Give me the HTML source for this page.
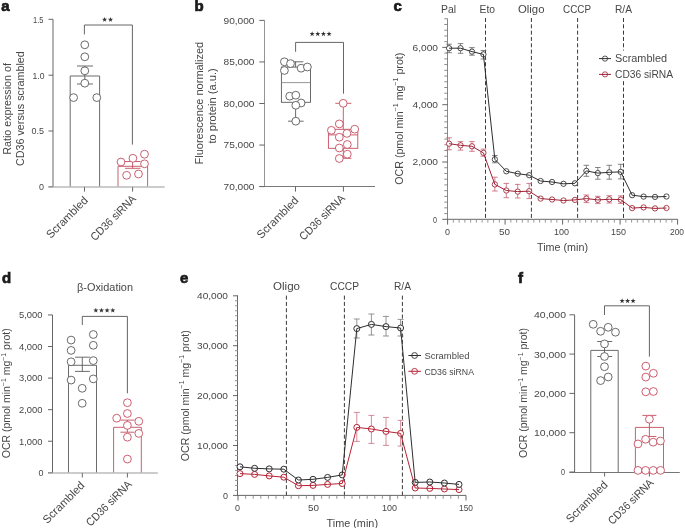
<!DOCTYPE html>
<html><head><meta charset="utf-8"><style>
html,body{margin:0;padding:0;background:#fff;overflow:hidden;}
svg{display:block;font-family:"Liberation Sans",sans-serif;will-change:transform;}
</style></head><body>
<svg width="685" height="528" viewBox="0 0 685 528">
<rect width="685" height="528" fill="#fff"/>
<text x="1.30" y="10.95" font-size="15" text-anchor="start" fill="#1a1a1a" font-weight="bold"   stroke="#1a1a1a" stroke-width="0.7">a</text>
<line x1="53.00" y1="19.30" x2="53.00" y2="186.80" stroke="#555555" stroke-width="0.9" />
<line x1="48.50" y1="19.30" x2="53.00" y2="19.30" stroke="#555555" stroke-width="0.9" />
<text x="33.00" y="22.60" font-size="9.4" text-anchor="start" fill="#474747" font-weight="normal" textLength="10.5" lengthAdjust="spacingAndGlyphs"  >1.5</text>
<line x1="48.50" y1="75.20" x2="53.00" y2="75.20" stroke="#555555" stroke-width="0.9" />
<text x="32.50" y="78.50" font-size="9.4" text-anchor="start" fill="#474747" font-weight="normal" textLength="12.0" lengthAdjust="spacingAndGlyphs"  >1.0</text>
<line x1="48.50" y1="131.00" x2="53.00" y2="131.00" stroke="#555555" stroke-width="0.9" />
<text x="31.50" y="134.30" font-size="9.4" text-anchor="start" fill="#474747" font-weight="normal" textLength="12.5" lengthAdjust="spacingAndGlyphs"  >0.5</text>
<line x1="48.50" y1="186.80" x2="53.00" y2="186.80" stroke="#555555" stroke-width="0.9" />
<text x="39.00" y="190.10" font-size="9.4" text-anchor="start" fill="#474747" font-weight="normal" textLength="5.0" lengthAdjust="spacingAndGlyphs"  >0</text>
<line x1="84.50" y1="186.80" x2="84.50" y2="191.60" stroke="#555555" stroke-width="0.9" />
<line x1="132.60" y1="186.80" x2="132.60" y2="191.60" stroke="#555555" stroke-width="0.9" />
<polyline points="70.20,186.50 70.20,76.00 99.60,76.00 99.60,186.50" fill="none" stroke="#5a5a5a" stroke-width="0.9" stroke-linejoin="round" />
<polyline points="118.00,186.50 118.00,166.30 147.60,166.30 147.60,186.50" fill="none" stroke="#c44e60" stroke-width="0.9" stroke-linejoin="round" />
<line x1="48.30" y1="187.00" x2="164.60" y2="187.00" stroke="#999" stroke-width="1.0" />
<line x1="84.80" y1="66.00" x2="84.80" y2="84.00" stroke="#5a5a5a" stroke-width="0.9" />
<line x1="77.00" y1="66.00" x2="93.00" y2="66.00" stroke="#5a5a5a" stroke-width="0.9" />
<line x1="77.00" y1="84.00" x2="93.00" y2="84.00" stroke="#5a5a5a" stroke-width="0.9" />
<line x1="132.60" y1="161.50" x2="132.60" y2="168.30" stroke="#c44e60" stroke-width="0.9" />
<line x1="125.00" y1="161.50" x2="140.40" y2="161.50" stroke="#c44e60" stroke-width="0.9" />
<line x1="125.00" y1="168.30" x2="140.40" y2="168.30" stroke="#c44e60" stroke-width="0.9" />
<circle cx="84.80" cy="44.80" r="3.9" fill="#fff" stroke="#5a5a5a" stroke-width="0.9"/>
<circle cx="84.80" cy="56.80" r="3.9" fill="#fff" stroke="#5a5a5a" stroke-width="0.9"/>
<circle cx="84.80" cy="70.80" r="3.9" fill="#fff" stroke="#5a5a5a" stroke-width="0.9"/>
<circle cx="84.80" cy="83.20" r="3.9" fill="#fff" stroke="#5a5a5a" stroke-width="0.9"/>
<circle cx="73.60" cy="97.60" r="3.9" fill="#fff" stroke="#5a5a5a" stroke-width="0.9"/>
<circle cx="96.80" cy="97.60" r="3.9" fill="#fff" stroke="#5a5a5a" stroke-width="0.9"/>
<circle cx="121.00" cy="162.00" r="3.9" fill="#fff" stroke="#c44e60" stroke-width="0.9"/>
<circle cx="132.90" cy="158.30" r="3.9" fill="#fff" stroke="#c44e60" stroke-width="0.9"/>
<circle cx="144.50" cy="154.20" r="3.9" fill="#fff" stroke="#c44e60" stroke-width="0.9"/>
<circle cx="144.50" cy="163.80" r="3.9" fill="#fff" stroke="#c44e60" stroke-width="0.9"/>
<circle cx="126.60" cy="175.30" r="3.9" fill="#fff" stroke="#c44e60" stroke-width="0.9"/>
<circle cx="138.50" cy="174.00" r="3.9" fill="#fff" stroke="#c44e60" stroke-width="0.9"/>
<polyline points="84.40,34.40 84.40,25.00 132.40,25.00 132.40,144.60" fill="none" stroke="#555555" stroke-width="0.9" stroke-linejoin="round" />
<polygon points="104.60,16.90 105.25,18.71 107.17,18.77 105.65,19.94 106.19,21.78 104.60,20.70 103.01,21.78 103.55,19.94 102.03,18.77 103.95,18.71" fill="#333"/>
<polygon points="110.50,16.90 111.15,18.71 113.07,18.77 111.55,19.94 112.09,21.78 110.50,20.70 108.91,21.78 109.45,19.94 107.93,18.77 109.85,18.71" fill="#333"/>
<text x="10.80" y="108.90" font-size="10.5" text-anchor="middle" fill="#474747" font-weight="normal" textLength="91.59999999999997" lengthAdjust="spacingAndGlyphs" transform="rotate(-90 10.80 108.90)" >Ratio expression of</text>
<text x="23.90" y="108.60" font-size="10.5" text-anchor="middle" fill="#474747" font-weight="normal" textLength="114.89999999999979" lengthAdjust="spacingAndGlyphs" transform="rotate(-90 23.90 108.60)" >CD36 versus scrambled</text>
<text x="88.70" y="201.00" font-size="11.3" text-anchor="end" fill="#474747" font-weight="normal" textLength="53.7" lengthAdjust="spacingAndGlyphs" transform="rotate(-45 88.70 201.00)" >Scrambled</text>
<text x="136.80" y="199.60" font-size="11.3" text-anchor="end" fill="#474747" font-weight="normal" textLength="59.1" lengthAdjust="spacingAndGlyphs" transform="rotate(-45 136.80 199.60)" >CD36 siRNA</text>
<text x="194.50" y="10.95" font-size="15" text-anchor="start" fill="#1a1a1a" font-weight="bold"   stroke="#1a1a1a" stroke-width="0.7">b</text>
<line x1="264.50" y1="20.40" x2="264.50" y2="186.60" stroke="#888" stroke-width="0.9" />
<line x1="259.30" y1="20.40" x2="264.60" y2="20.40" stroke="#555555" stroke-width="0.9" />
<text x="223.50" y="23.80" font-size="9.4" text-anchor="start" fill="#474747" font-weight="normal" textLength="31.0" lengthAdjust="spacingAndGlyphs"  >90,000</text>
<line x1="259.30" y1="61.95" x2="264.60" y2="61.95" stroke="#555555" stroke-width="0.9" />
<text x="223.50" y="65.35" font-size="9.4" text-anchor="start" fill="#474747" font-weight="normal" textLength="31.0" lengthAdjust="spacingAndGlyphs"  >85,000</text>
<line x1="259.30" y1="103.50" x2="264.60" y2="103.50" stroke="#555555" stroke-width="0.9" />
<text x="223.50" y="106.90" font-size="9.4" text-anchor="start" fill="#474747" font-weight="normal" textLength="31.0" lengthAdjust="spacingAndGlyphs"  >80,000</text>
<line x1="259.30" y1="145.05" x2="264.60" y2="145.05" stroke="#555555" stroke-width="0.9" />
<text x="223.50" y="148.45" font-size="9.4" text-anchor="start" fill="#474747" font-weight="normal" textLength="31.0" lengthAdjust="spacingAndGlyphs"  >75,000</text>
<line x1="259.30" y1="186.60" x2="264.60" y2="186.60" stroke="#555555" stroke-width="0.9" />
<text x="223.50" y="190.00" font-size="9.4" text-anchor="start" fill="#474747" font-weight="normal" textLength="31.0" lengthAdjust="spacingAndGlyphs"  >70,000</text>
<line x1="259.30" y1="186.50" x2="375.00" y2="186.50" stroke="#6a6a6a" stroke-width="0.9" />
<line x1="295.50" y1="186.60" x2="295.50" y2="191.60" stroke="#555555" stroke-width="0.9" />
<line x1="343.40" y1="186.60" x2="343.40" y2="191.60" stroke="#555555" stroke-width="0.9" />
<rect x="281.40" y="67.10" width="29.10" height="35.20" fill="none" stroke="#5a5a5a" stroke-width="0.9"/>
<line x1="281.40" y1="82.60" x2="310.50" y2="82.60" stroke="#8a8a8a" stroke-width="0.9" />
<line x1="295.60" y1="61.80" x2="295.60" y2="67.10" stroke="#5a5a5a" stroke-width="0.9" />
<line x1="288.00" y1="61.80" x2="303.30" y2="61.80" stroke="#5a5a5a" stroke-width="0.9" />
<line x1="295.60" y1="102.30" x2="295.60" y2="121.20" stroke="#5a5a5a" stroke-width="0.9" />
<line x1="288.00" y1="121.20" x2="303.60" y2="121.20" stroke="#5a5a5a" stroke-width="0.9" />
<circle cx="284.40" cy="61.80" r="3.9" fill="#fff" stroke="#5a5a5a" stroke-width="0.9"/>
<circle cx="290.50" cy="63.60" r="3.9" fill="#fff" stroke="#5a5a5a" stroke-width="0.9"/>
<circle cx="284.40" cy="70.50" r="3.9" fill="#fff" stroke="#5a5a5a" stroke-width="0.9"/>
<circle cx="301.10" cy="68.20" r="3.9" fill="#fff" stroke="#5a5a5a" stroke-width="0.9"/>
<circle cx="307.40" cy="67.00" r="3.9" fill="#fff" stroke="#5a5a5a" stroke-width="0.9"/>
<circle cx="289.70" cy="96.20" r="3.9" fill="#fff" stroke="#5a5a5a" stroke-width="0.9"/>
<circle cx="295.80" cy="95.20" r="3.9" fill="#fff" stroke="#5a5a5a" stroke-width="0.9"/>
<circle cx="301.10" cy="103.00" r="3.9" fill="#fff" stroke="#5a5a5a" stroke-width="0.9"/>
<circle cx="295.80" cy="105.30" r="3.9" fill="#fff" stroke="#5a5a5a" stroke-width="0.9"/>
<circle cx="295.80" cy="121.20" r="3.9" fill="#fff" stroke="#5a5a5a" stroke-width="0.9"/>
<rect x="328.40" y="129.30" width="29.40" height="19.00" fill="none" stroke="#c44e60" stroke-width="0.9"/>
<line x1="328.40" y1="134.90" x2="357.80" y2="134.90" stroke="#c44e60" stroke-width="0.9" />
<line x1="343.30" y1="103.30" x2="343.30" y2="129.30" stroke="#c44e60" stroke-width="0.9" />
<line x1="335.30" y1="103.30" x2="351.40" y2="103.30" stroke="#c44e60" stroke-width="0.9" />
<line x1="343.30" y1="148.30" x2="343.30" y2="158.30" stroke="#c44e60" stroke-width="0.9" />
<line x1="335.30" y1="158.30" x2="351.40" y2="158.30" stroke="#c44e60" stroke-width="0.9" />
<circle cx="343.20" cy="103.30" r="3.9" fill="#fff" stroke="#c44e60" stroke-width="0.9"/>
<circle cx="339.30" cy="123.90" r="3.9" fill="#fff" stroke="#c44e60" stroke-width="0.9"/>
<circle cx="331.40" cy="130.30" r="3.9" fill="#fff" stroke="#c44e60" stroke-width="0.9"/>
<circle cx="354.70" cy="129.20" r="3.9" fill="#fff" stroke="#c44e60" stroke-width="0.9"/>
<circle cx="346.90" cy="133.40" r="3.9" fill="#fff" stroke="#c44e60" stroke-width="0.9"/>
<circle cx="339.30" cy="137.20" r="3.9" fill="#fff" stroke="#c44e60" stroke-width="0.9"/>
<circle cx="347.30" cy="144.50" r="3.9" fill="#fff" stroke="#c44e60" stroke-width="0.9"/>
<circle cx="339.30" cy="148.00" r="3.9" fill="#fff" stroke="#c44e60" stroke-width="0.9"/>
<circle cx="347.30" cy="154.20" r="3.9" fill="#fff" stroke="#c44e60" stroke-width="0.9"/>
<circle cx="339.30" cy="158.50" r="3.9" fill="#fff" stroke="#c44e60" stroke-width="0.9"/>
<polyline points="295.60,51.80 295.60,42.40 343.50,42.40 343.50,93.70" fill="none" stroke="#555555" stroke-width="0.9" stroke-linejoin="round" />
<polygon points="312.12,31.30 312.77,33.11 314.69,33.17 313.17,34.34 313.71,36.18 312.12,35.10 310.54,36.18 311.08,34.34 309.56,33.17 311.48,33.11" fill="#333"/>
<polygon points="317.77,31.30 318.42,33.11 320.34,33.17 318.82,34.34 319.36,36.18 317.77,35.10 316.19,36.18 316.73,34.34 315.21,33.17 317.13,33.11" fill="#333"/>
<polygon points="323.43,31.30 324.07,33.11 325.99,33.17 324.47,34.34 325.01,36.18 323.43,35.10 321.84,36.18 322.38,34.34 320.86,33.17 322.78,33.11" fill="#333"/>
<polygon points="329.07,31.30 329.72,33.11 331.64,33.17 330.12,34.34 330.66,36.18 329.07,35.10 327.49,36.18 328.03,34.34 326.51,33.17 328.43,33.11" fill="#333"/>
<text x="203.30" y="103.10" font-size="10.5" text-anchor="middle" fill="#474747" font-weight="normal" textLength="122.60000000000021" lengthAdjust="spacingAndGlyphs" transform="rotate(-90 203.30 103.10)" >Fluorescence normalized</text>
<text x="215.90" y="105.95" font-size="10.5" text-anchor="middle" fill="#474747" font-weight="normal" textLength="75.29999999999993" lengthAdjust="spacingAndGlyphs" transform="rotate(-90 215.90 105.95)" >to protein (a.u.)</text>
<text x="299.30" y="201.20" font-size="11.3" text-anchor="end" fill="#474747" font-weight="normal" textLength="53.7" lengthAdjust="spacingAndGlyphs" transform="rotate(-45 299.30 201.20)" >Scrambled</text>
<text x="345.60" y="199.20" font-size="11.3" text-anchor="end" fill="#474747" font-weight="normal" textLength="59.1" lengthAdjust="spacingAndGlyphs" transform="rotate(-45 345.60 199.20)" >CD36 siRNA</text>
<text x="393.50" y="10.95" font-size="15" text-anchor="start" fill="#1a1a1a" font-weight="bold"   stroke="#1a1a1a" stroke-width="0.7">c</text>
<line x1="447.50" y1="18.75" x2="447.50" y2="219.30" stroke="#7a7a7a" stroke-width="0.9" />
<line x1="442.30" y1="219.30" x2="447.70" y2="219.30" stroke="#555555" stroke-width="0.9" />
<line x1="444.30" y1="213.57" x2="447.70" y2="213.57" stroke="#808080" stroke-width="0.9" />
<line x1="444.30" y1="207.84" x2="447.70" y2="207.84" stroke="#808080" stroke-width="0.9" />
<line x1="444.30" y1="202.11" x2="447.70" y2="202.11" stroke="#808080" stroke-width="0.9" />
<line x1="444.30" y1="196.38" x2="447.70" y2="196.38" stroke="#808080" stroke-width="0.9" />
<line x1="444.30" y1="190.65" x2="447.70" y2="190.65" stroke="#808080" stroke-width="0.9" />
<line x1="444.30" y1="184.92" x2="447.70" y2="184.92" stroke="#808080" stroke-width="0.9" />
<line x1="444.30" y1="179.19" x2="447.70" y2="179.19" stroke="#808080" stroke-width="0.9" />
<line x1="444.30" y1="173.46" x2="447.70" y2="173.46" stroke="#808080" stroke-width="0.9" />
<line x1="444.30" y1="167.73" x2="447.70" y2="167.73" stroke="#808080" stroke-width="0.9" />
<line x1="442.30" y1="162.00" x2="447.70" y2="162.00" stroke="#555555" stroke-width="0.9" />
<line x1="444.30" y1="156.27" x2="447.70" y2="156.27" stroke="#808080" stroke-width="0.9" />
<line x1="444.30" y1="150.54" x2="447.70" y2="150.54" stroke="#808080" stroke-width="0.9" />
<line x1="444.30" y1="144.81" x2="447.70" y2="144.81" stroke="#808080" stroke-width="0.9" />
<line x1="444.30" y1="139.08" x2="447.70" y2="139.08" stroke="#808080" stroke-width="0.9" />
<line x1="444.30" y1="133.35" x2="447.70" y2="133.35" stroke="#808080" stroke-width="0.9" />
<line x1="444.30" y1="127.62" x2="447.70" y2="127.62" stroke="#808080" stroke-width="0.9" />
<line x1="444.30" y1="121.89" x2="447.70" y2="121.89" stroke="#808080" stroke-width="0.9" />
<line x1="444.30" y1="116.16" x2="447.70" y2="116.16" stroke="#808080" stroke-width="0.9" />
<line x1="444.30" y1="110.43" x2="447.70" y2="110.43" stroke="#808080" stroke-width="0.9" />
<line x1="442.30" y1="104.70" x2="447.70" y2="104.70" stroke="#555555" stroke-width="0.9" />
<line x1="444.30" y1="98.97" x2="447.70" y2="98.97" stroke="#808080" stroke-width="0.9" />
<line x1="444.30" y1="93.24" x2="447.70" y2="93.24" stroke="#808080" stroke-width="0.9" />
<line x1="444.30" y1="87.51" x2="447.70" y2="87.51" stroke="#808080" stroke-width="0.9" />
<line x1="444.30" y1="81.78" x2="447.70" y2="81.78" stroke="#808080" stroke-width="0.9" />
<line x1="444.30" y1="76.05" x2="447.70" y2="76.05" stroke="#808080" stroke-width="0.9" />
<line x1="444.30" y1="70.32" x2="447.70" y2="70.32" stroke="#808080" stroke-width="0.9" />
<line x1="444.30" y1="64.59" x2="447.70" y2="64.59" stroke="#808080" stroke-width="0.9" />
<line x1="444.30" y1="58.86" x2="447.70" y2="58.86" stroke="#808080" stroke-width="0.9" />
<line x1="444.30" y1="53.13" x2="447.70" y2="53.13" stroke="#808080" stroke-width="0.9" />
<line x1="442.30" y1="47.40" x2="447.70" y2="47.40" stroke="#555555" stroke-width="0.9" />
<line x1="444.30" y1="41.67" x2="447.70" y2="41.67" stroke="#808080" stroke-width="0.9" />
<line x1="444.30" y1="35.94" x2="447.70" y2="35.94" stroke="#808080" stroke-width="0.9" />
<line x1="444.30" y1="30.21" x2="447.70" y2="30.21" stroke="#808080" stroke-width="0.9" />
<line x1="444.30" y1="24.48" x2="447.70" y2="24.48" stroke="#808080" stroke-width="0.9" />
<line x1="444.30" y1="18.75" x2="447.70" y2="18.75" stroke="#808080" stroke-width="0.9" />
<text x="433.00" y="222.70" font-size="9.4" text-anchor="start" fill="#474747" font-weight="normal" textLength="4.0" lengthAdjust="spacingAndGlyphs"  >0</text>
<text x="412.50" y="165.40" font-size="9.4" text-anchor="start" fill="#474747" font-weight="normal" textLength="25.5" lengthAdjust="spacingAndGlyphs"  >2,000</text>
<text x="412.50" y="108.10" font-size="9.4" text-anchor="start" fill="#474747" font-weight="normal" textLength="25.5" lengthAdjust="spacingAndGlyphs"  >4,000</text>
<text x="412.50" y="50.80" font-size="9.4" text-anchor="start" fill="#474747" font-weight="normal" textLength="25.5" lengthAdjust="spacingAndGlyphs"  >6,000</text>
<line x1="447.60" y1="219.30" x2="677.60" y2="219.30" stroke="#555555" stroke-width="0.9" />
<line x1="447.60" y1="219.30" x2="447.60" y2="224.60" stroke="#555555" stroke-width="0.9" />
<line x1="453.35" y1="219.30" x2="453.35" y2="222.60" stroke="#8a8a8a" stroke-width="0.9" />
<line x1="459.10" y1="219.30" x2="459.10" y2="222.60" stroke="#8a8a8a" stroke-width="0.9" />
<line x1="464.85" y1="219.30" x2="464.85" y2="222.60" stroke="#8a8a8a" stroke-width="0.9" />
<line x1="470.60" y1="219.30" x2="470.60" y2="222.60" stroke="#8a8a8a" stroke-width="0.9" />
<line x1="476.35" y1="219.30" x2="476.35" y2="222.60" stroke="#8a8a8a" stroke-width="0.9" />
<line x1="482.10" y1="219.30" x2="482.10" y2="222.60" stroke="#8a8a8a" stroke-width="0.9" />
<line x1="487.85" y1="219.30" x2="487.85" y2="222.60" stroke="#8a8a8a" stroke-width="0.9" />
<line x1="493.60" y1="219.30" x2="493.60" y2="222.60" stroke="#8a8a8a" stroke-width="0.9" />
<line x1="499.35" y1="219.30" x2="499.35" y2="222.60" stroke="#8a8a8a" stroke-width="0.9" />
<line x1="505.10" y1="219.30" x2="505.10" y2="224.60" stroke="#555555" stroke-width="0.9" />
<line x1="510.85" y1="219.30" x2="510.85" y2="222.60" stroke="#8a8a8a" stroke-width="0.9" />
<line x1="516.60" y1="219.30" x2="516.60" y2="222.60" stroke="#8a8a8a" stroke-width="0.9" />
<line x1="522.35" y1="219.30" x2="522.35" y2="222.60" stroke="#8a8a8a" stroke-width="0.9" />
<line x1="528.10" y1="219.30" x2="528.10" y2="222.60" stroke="#8a8a8a" stroke-width="0.9" />
<line x1="533.85" y1="219.30" x2="533.85" y2="222.60" stroke="#8a8a8a" stroke-width="0.9" />
<line x1="539.60" y1="219.30" x2="539.60" y2="222.60" stroke="#8a8a8a" stroke-width="0.9" />
<line x1="545.35" y1="219.30" x2="545.35" y2="222.60" stroke="#8a8a8a" stroke-width="0.9" />
<line x1="551.10" y1="219.30" x2="551.10" y2="222.60" stroke="#8a8a8a" stroke-width="0.9" />
<line x1="556.85" y1="219.30" x2="556.85" y2="222.60" stroke="#8a8a8a" stroke-width="0.9" />
<line x1="562.60" y1="219.30" x2="562.60" y2="224.60" stroke="#555555" stroke-width="0.9" />
<line x1="568.35" y1="219.30" x2="568.35" y2="222.60" stroke="#8a8a8a" stroke-width="0.9" />
<line x1="574.10" y1="219.30" x2="574.10" y2="222.60" stroke="#8a8a8a" stroke-width="0.9" />
<line x1="579.85" y1="219.30" x2="579.85" y2="222.60" stroke="#8a8a8a" stroke-width="0.9" />
<line x1="585.60" y1="219.30" x2="585.60" y2="222.60" stroke="#8a8a8a" stroke-width="0.9" />
<line x1="591.35" y1="219.30" x2="591.35" y2="222.60" stroke="#8a8a8a" stroke-width="0.9" />
<line x1="597.10" y1="219.30" x2="597.10" y2="222.60" stroke="#8a8a8a" stroke-width="0.9" />
<line x1="602.85" y1="219.30" x2="602.85" y2="222.60" stroke="#8a8a8a" stroke-width="0.9" />
<line x1="608.60" y1="219.30" x2="608.60" y2="222.60" stroke="#8a8a8a" stroke-width="0.9" />
<line x1="614.35" y1="219.30" x2="614.35" y2="222.60" stroke="#8a8a8a" stroke-width="0.9" />
<line x1="620.10" y1="219.30" x2="620.10" y2="224.60" stroke="#555555" stroke-width="0.9" />
<line x1="625.85" y1="219.30" x2="625.85" y2="222.60" stroke="#8a8a8a" stroke-width="0.9" />
<line x1="631.60" y1="219.30" x2="631.60" y2="222.60" stroke="#8a8a8a" stroke-width="0.9" />
<line x1="637.35" y1="219.30" x2="637.35" y2="222.60" stroke="#8a8a8a" stroke-width="0.9" />
<line x1="643.10" y1="219.30" x2="643.10" y2="222.60" stroke="#8a8a8a" stroke-width="0.9" />
<line x1="648.85" y1="219.30" x2="648.85" y2="222.60" stroke="#8a8a8a" stroke-width="0.9" />
<line x1="654.60" y1="219.30" x2="654.60" y2="222.60" stroke="#8a8a8a" stroke-width="0.9" />
<line x1="660.35" y1="219.30" x2="660.35" y2="222.60" stroke="#8a8a8a" stroke-width="0.9" />
<line x1="666.10" y1="219.30" x2="666.10" y2="222.60" stroke="#8a8a8a" stroke-width="0.9" />
<line x1="671.85" y1="219.30" x2="671.85" y2="222.60" stroke="#8a8a8a" stroke-width="0.9" />
<line x1="677.60" y1="219.30" x2="677.60" y2="224.60" stroke="#555555" stroke-width="0.9" />
<text x="445.00" y="235.30" font-size="9.4" text-anchor="start" fill="#474747" font-weight="normal" textLength="5.0" lengthAdjust="spacingAndGlyphs"  >0</text>
<text x="499.00" y="235.30" font-size="9.4" text-anchor="start" fill="#474747" font-weight="normal" textLength="11.0" lengthAdjust="spacingAndGlyphs"  >50</text>
<text x="554.00" y="235.30" font-size="9.4" text-anchor="start" fill="#474747" font-weight="normal" textLength="15.0" lengthAdjust="spacingAndGlyphs"  >100</text>
<text x="611.00" y="235.30" font-size="9.4" text-anchor="start" fill="#474747" font-weight="normal" textLength="15.0" lengthAdjust="spacingAndGlyphs"  >150</text>
<text x="670.00" y="235.30" font-size="9.4" text-anchor="start" fill="#474747" font-weight="normal" textLength="14.0" lengthAdjust="spacingAndGlyphs"  >200</text>
<text x="537.00" y="251.20" font-size="10.2" text-anchor="start" fill="#474747" font-weight="normal" textLength="51.0" lengthAdjust="spacingAndGlyphs"  >Time (min)</text>
<line x1="485.50" y1="18.00" x2="485.50" y2="219.30" stroke="#3a3a3a" stroke-width="1.0" stroke-dasharray="4.0 2.32"/>
<line x1="531.40" y1="18.00" x2="531.40" y2="219.30" stroke="#3a3a3a" stroke-width="1.0" stroke-dasharray="4.0 2.32"/>
<line x1="577.60" y1="18.00" x2="577.60" y2="219.30" stroke="#3a3a3a" stroke-width="1.0" stroke-dasharray="4.0 2.32"/>
<line x1="623.50" y1="18.00" x2="623.50" y2="219.30" stroke="#3a3a3a" stroke-width="1.0" stroke-dasharray="4.0 2.32"/>
<text x="441.00" y="12.70" font-size="10.2" text-anchor="start" fill="#474747" font-weight="normal" textLength="15.0" lengthAdjust="spacingAndGlyphs"  >Pal</text>
<text x="479.50" y="12.70" font-size="10.2" text-anchor="start" fill="#474747" font-weight="normal" textLength="15.5" lengthAdjust="spacingAndGlyphs"  >Eto</text>
<text x="518.00" y="12.70" font-size="10.2" text-anchor="start" fill="#474747" font-weight="normal" textLength="26.5" lengthAdjust="spacingAndGlyphs"  >Oligo</text>
<text x="563.00" y="12.70" font-size="10.2" text-anchor="start" fill="#474747" font-weight="normal" textLength="28.0" lengthAdjust="spacingAndGlyphs"  >CCCP</text>
<text x="615.00" y="12.70" font-size="10.2" text-anchor="start" fill="#474747" font-weight="normal" textLength="17.0" lengthAdjust="spacingAndGlyphs"  >R/A</text>
<line x1="449.10" y1="44.20" x2="449.10" y2="52.70" stroke="#666" stroke-width="0.8" />
<line x1="446.30" y1="44.20" x2="451.90" y2="44.20" stroke="#666" stroke-width="0.8" />
<line x1="446.30" y1="52.70" x2="451.90" y2="52.70" stroke="#666" stroke-width="0.8" />
<line x1="460.54" y1="43.60" x2="460.54" y2="53.30" stroke="#666" stroke-width="0.8" />
<line x1="457.74" y1="43.60" x2="463.34" y2="43.60" stroke="#666" stroke-width="0.8" />
<line x1="457.74" y1="53.30" x2="463.34" y2="53.30" stroke="#666" stroke-width="0.8" />
<line x1="471.98" y1="47.60" x2="471.98" y2="55.20" stroke="#666" stroke-width="0.8" />
<line x1="469.18" y1="47.60" x2="474.78" y2="47.60" stroke="#666" stroke-width="0.8" />
<line x1="469.18" y1="55.20" x2="474.78" y2="55.20" stroke="#666" stroke-width="0.8" />
<line x1="483.42" y1="50.50" x2="483.42" y2="59.00" stroke="#666" stroke-width="0.8" />
<line x1="480.62" y1="50.50" x2="486.22" y2="50.50" stroke="#666" stroke-width="0.8" />
<line x1="480.62" y1="59.00" x2="486.22" y2="59.00" stroke="#666" stroke-width="0.8" />
<line x1="494.86" y1="155.50" x2="494.86" y2="162.80" stroke="#666" stroke-width="0.8" />
<line x1="492.06" y1="155.50" x2="497.66" y2="155.50" stroke="#666" stroke-width="0.8" />
<line x1="492.06" y1="162.80" x2="497.66" y2="162.80" stroke="#666" stroke-width="0.8" />
<line x1="586.38" y1="165.30" x2="586.38" y2="176.30" stroke="#666" stroke-width="0.8" />
<line x1="583.58" y1="165.30" x2="589.18" y2="165.30" stroke="#666" stroke-width="0.8" />
<line x1="583.58" y1="176.30" x2="589.18" y2="176.30" stroke="#666" stroke-width="0.8" />
<line x1="597.82" y1="167.50" x2="597.82" y2="179.20" stroke="#666" stroke-width="0.8" />
<line x1="595.02" y1="167.50" x2="600.62" y2="167.50" stroke="#666" stroke-width="0.8" />
<line x1="595.02" y1="179.20" x2="600.62" y2="179.20" stroke="#666" stroke-width="0.8" />
<line x1="609.26" y1="165.30" x2="609.26" y2="179.20" stroke="#666" stroke-width="0.8" />
<line x1="606.46" y1="165.30" x2="612.06" y2="165.30" stroke="#666" stroke-width="0.8" />
<line x1="606.46" y1="179.20" x2="612.06" y2="179.20" stroke="#666" stroke-width="0.8" />
<line x1="620.70" y1="164.30" x2="620.70" y2="178.90" stroke="#666" stroke-width="0.8" />
<line x1="617.90" y1="164.30" x2="623.50" y2="164.30" stroke="#666" stroke-width="0.8" />
<line x1="617.90" y1="178.90" x2="623.50" y2="178.90" stroke="#666" stroke-width="0.8" />
<line x1="449.10" y1="137.80" x2="449.10" y2="149.80" stroke="#c46070" stroke-width="0.8" />
<line x1="446.30" y1="137.80" x2="451.90" y2="137.80" stroke="#c46070" stroke-width="0.8" />
<line x1="446.30" y1="149.80" x2="451.90" y2="149.80" stroke="#c46070" stroke-width="0.8" />
<line x1="460.54" y1="141.60" x2="460.54" y2="150.10" stroke="#c46070" stroke-width="0.8" />
<line x1="457.74" y1="141.60" x2="463.34" y2="141.60" stroke="#c46070" stroke-width="0.8" />
<line x1="457.74" y1="150.10" x2="463.34" y2="150.10" stroke="#c46070" stroke-width="0.8" />
<line x1="471.98" y1="141.60" x2="471.98" y2="151.30" stroke="#c46070" stroke-width="0.8" />
<line x1="469.18" y1="141.60" x2="474.78" y2="141.60" stroke="#c46070" stroke-width="0.8" />
<line x1="469.18" y1="151.30" x2="474.78" y2="151.30" stroke="#c46070" stroke-width="0.8" />
<line x1="483.42" y1="149.10" x2="483.42" y2="156.20" stroke="#c46070" stroke-width="0.8" />
<line x1="480.62" y1="149.10" x2="486.22" y2="149.10" stroke="#c46070" stroke-width="0.8" />
<line x1="480.62" y1="156.20" x2="486.22" y2="156.20" stroke="#c46070" stroke-width="0.8" />
<line x1="494.86" y1="177.20" x2="494.86" y2="191.00" stroke="#c46070" stroke-width="0.8" />
<line x1="492.06" y1="177.20" x2="497.66" y2="177.20" stroke="#c46070" stroke-width="0.8" />
<line x1="492.06" y1="191.00" x2="497.66" y2="191.00" stroke="#c46070" stroke-width="0.8" />
<line x1="506.30" y1="183.40" x2="506.30" y2="197.70" stroke="#c46070" stroke-width="0.8" />
<line x1="503.50" y1="183.40" x2="509.10" y2="183.40" stroke="#c46070" stroke-width="0.8" />
<line x1="503.50" y1="197.70" x2="509.10" y2="197.70" stroke="#c46070" stroke-width="0.8" />
<line x1="517.74" y1="184.40" x2="517.74" y2="198.00" stroke="#c46070" stroke-width="0.8" />
<line x1="514.94" y1="184.40" x2="520.54" y2="184.40" stroke="#c46070" stroke-width="0.8" />
<line x1="514.94" y1="198.00" x2="520.54" y2="198.00" stroke="#c46070" stroke-width="0.8" />
<line x1="529.18" y1="183.40" x2="529.18" y2="198.60" stroke="#c46070" stroke-width="0.8" />
<line x1="526.38" y1="183.40" x2="531.98" y2="183.40" stroke="#c46070" stroke-width="0.8" />
<line x1="526.38" y1="198.60" x2="531.98" y2="198.60" stroke="#c46070" stroke-width="0.8" />
<line x1="586.38" y1="195.00" x2="586.38" y2="202.60" stroke="#c46070" stroke-width="0.8" />
<line x1="583.58" y1="195.00" x2="589.18" y2="195.00" stroke="#c46070" stroke-width="0.8" />
<line x1="583.58" y1="202.60" x2="589.18" y2="202.60" stroke="#c46070" stroke-width="0.8" />
<line x1="597.82" y1="196.30" x2="597.82" y2="203.60" stroke="#c46070" stroke-width="0.8" />
<line x1="595.02" y1="196.30" x2="600.62" y2="196.30" stroke="#c46070" stroke-width="0.8" />
<line x1="595.02" y1="203.60" x2="600.62" y2="203.60" stroke="#c46070" stroke-width="0.8" />
<line x1="609.26" y1="195.70" x2="609.26" y2="203.00" stroke="#c46070" stroke-width="0.8" />
<line x1="606.46" y1="195.70" x2="612.06" y2="195.70" stroke="#c46070" stroke-width="0.8" />
<line x1="606.46" y1="203.00" x2="612.06" y2="203.00" stroke="#c46070" stroke-width="0.8" />
<line x1="620.70" y1="195.90" x2="620.70" y2="203.40" stroke="#c46070" stroke-width="0.8" />
<line x1="617.90" y1="195.90" x2="623.50" y2="195.90" stroke="#c46070" stroke-width="0.8" />
<line x1="617.90" y1="203.40" x2="623.50" y2="203.40" stroke="#c46070" stroke-width="0.8" />
<circle cx="449.10" cy="143.70" r="2.65" fill="#fff" stroke="#9e2235" stroke-width="0.85"/>
<circle cx="460.54" cy="145.30" r="2.65" fill="#fff" stroke="#9e2235" stroke-width="0.85"/>
<circle cx="471.98" cy="146.30" r="2.65" fill="#fff" stroke="#9e2235" stroke-width="0.85"/>
<circle cx="483.42" cy="152.90" r="2.65" fill="#fff" stroke="#9e2235" stroke-width="0.85"/>
<circle cx="494.86" cy="184.40" r="2.65" fill="#fff" stroke="#9e2235" stroke-width="0.85"/>
<circle cx="506.30" cy="190.50" r="2.65" fill="#fff" stroke="#9e2235" stroke-width="0.85"/>
<circle cx="517.74" cy="191.60" r="2.65" fill="#fff" stroke="#9e2235" stroke-width="0.85"/>
<circle cx="529.18" cy="191.20" r="2.65" fill="#fff" stroke="#9e2235" stroke-width="0.85"/>
<circle cx="540.62" cy="198.60" r="2.65" fill="#fff" stroke="#9e2235" stroke-width="0.85"/>
<circle cx="552.06" cy="199.50" r="2.65" fill="#fff" stroke="#9e2235" stroke-width="0.85"/>
<circle cx="563.50" cy="200.50" r="2.65" fill="#fff" stroke="#9e2235" stroke-width="0.85"/>
<circle cx="574.94" cy="199.90" r="2.65" fill="#fff" stroke="#9e2235" stroke-width="0.85"/>
<circle cx="586.38" cy="198.60" r="2.65" fill="#fff" stroke="#9e2235" stroke-width="0.85"/>
<circle cx="597.82" cy="199.90" r="2.65" fill="#fff" stroke="#9e2235" stroke-width="0.85"/>
<circle cx="609.26" cy="199.30" r="2.65" fill="#fff" stroke="#9e2235" stroke-width="0.85"/>
<circle cx="620.70" cy="199.60" r="2.65" fill="#fff" stroke="#9e2235" stroke-width="0.85"/>
<circle cx="632.14" cy="208.10" r="2.65" fill="#fff" stroke="#9e2235" stroke-width="0.85"/>
<circle cx="643.58" cy="207.40" r="2.65" fill="#fff" stroke="#9e2235" stroke-width="0.85"/>
<circle cx="655.02" cy="208.40" r="2.65" fill="#fff" stroke="#9e2235" stroke-width="0.85"/>
<circle cx="666.46" cy="208.00" r="2.65" fill="#fff" stroke="#9e2235" stroke-width="0.85"/>
<circle cx="449.10" cy="48.20" r="2.65" fill="#fff" stroke="#2e2e2e" stroke-width="0.85"/>
<circle cx="460.54" cy="48.20" r="2.65" fill="#fff" stroke="#2e2e2e" stroke-width="0.85"/>
<circle cx="471.98" cy="51.60" r="2.65" fill="#fff" stroke="#2e2e2e" stroke-width="0.85"/>
<circle cx="483.42" cy="54.40" r="2.65" fill="#fff" stroke="#2e2e2e" stroke-width="0.85"/>
<circle cx="494.86" cy="159.30" r="2.65" fill="#fff" stroke="#2e2e2e" stroke-width="0.85"/>
<circle cx="506.30" cy="171.30" r="2.65" fill="#fff" stroke="#2e2e2e" stroke-width="0.85"/>
<circle cx="517.74" cy="173.70" r="2.65" fill="#fff" stroke="#2e2e2e" stroke-width="0.85"/>
<circle cx="529.18" cy="175.20" r="2.65" fill="#fff" stroke="#2e2e2e" stroke-width="0.85"/>
<circle cx="540.62" cy="181.00" r="2.65" fill="#fff" stroke="#2e2e2e" stroke-width="0.85"/>
<circle cx="552.06" cy="182.00" r="2.65" fill="#fff" stroke="#2e2e2e" stroke-width="0.85"/>
<circle cx="563.50" cy="183.80" r="2.65" fill="#fff" stroke="#2e2e2e" stroke-width="0.85"/>
<circle cx="574.94" cy="183.30" r="2.65" fill="#fff" stroke="#2e2e2e" stroke-width="0.85"/>
<circle cx="586.38" cy="170.90" r="2.65" fill="#fff" stroke="#2e2e2e" stroke-width="0.85"/>
<circle cx="597.82" cy="173.10" r="2.65" fill="#fff" stroke="#2e2e2e" stroke-width="0.85"/>
<circle cx="609.26" cy="172.30" r="2.65" fill="#fff" stroke="#2e2e2e" stroke-width="0.85"/>
<circle cx="620.70" cy="171.90" r="2.65" fill="#fff" stroke="#2e2e2e" stroke-width="0.85"/>
<circle cx="632.14" cy="195.20" r="2.65" fill="#fff" stroke="#2e2e2e" stroke-width="0.85"/>
<circle cx="643.58" cy="196.60" r="2.65" fill="#fff" stroke="#2e2e2e" stroke-width="0.85"/>
<circle cx="655.02" cy="196.90" r="2.65" fill="#fff" stroke="#2e2e2e" stroke-width="0.85"/>
<circle cx="666.46" cy="196.50" r="2.65" fill="#fff" stroke="#2e2e2e" stroke-width="0.85"/>
<polyline points="449.10,143.70 460.54,145.30 471.98,146.30 483.42,152.90 494.86,184.40 506.30,190.50 517.74,191.60 529.18,191.20 540.62,198.60 552.06,199.50 563.50,200.50 574.94,199.90 586.38,198.60 597.82,199.90 609.26,199.30 620.70,199.60 632.14,208.10 643.58,207.40 655.02,208.40 666.46,208.00" fill="none" stroke="#9e2235" stroke-width="1.0" stroke-linejoin="round" />
<polyline points="449.10,48.20 460.54,48.20 471.98,51.60 483.42,54.40 494.86,159.30 506.30,171.30 517.74,173.70 529.18,175.20 540.62,181.00 552.06,182.00 563.50,183.80 574.94,183.30 586.38,170.90 597.82,173.10 609.26,172.30 620.70,171.90 632.14,195.20 643.58,196.60 655.02,196.90 666.46,196.50" fill="none" stroke="#2e2e2e" stroke-width="1.0" stroke-linejoin="round" />
<rect x="596" y="50.5" width="80" height="30.5" fill="#fff"/>
<line x1="599.00" y1="58.60" x2="611.00" y2="58.60" stroke="#2e2e2e" stroke-width="1.0" />
<circle cx="605.00" cy="58.60" r="2.6" fill="none" stroke="#2e2e2e" stroke-width="0.8"/>
<line x1="599.00" y1="74.40" x2="611.00" y2="74.40" stroke="#9e2235" stroke-width="1.0" />
<circle cx="605.00" cy="74.40" r="2.6" fill="none" stroke="#9e2235" stroke-width="0.8"/>
<text x="615.00" y="62.00" font-size="10.0" text-anchor="start" fill="#474747" font-weight="normal" textLength="52.0" lengthAdjust="spacingAndGlyphs"  >Scrambled</text>
<text x="615.00" y="78.00" font-size="10.0" text-anchor="start" fill="#474747" font-weight="normal" textLength="58.0" lengthAdjust="spacingAndGlyphs"  >CD36 siRNA</text>
<text x="402.60" y="118.70" font-size="10.3" text-anchor="middle" fill="#474747" font-weight="normal" textLength="132.09999999999985" lengthAdjust="spacingAndGlyphs" transform="rotate(-90 402.60 118.70)" >OCR (pmol min<tspan font-size="6.8" dy="-4.2">&#8722;1</tspan><tspan dy="4.2"> mg</tspan><tspan font-size="6.8" dy="-4.2">&#8722;1</tspan><tspan dy="4.2"> prot)</tspan></text>
<text x="2.00" y="282.70" font-size="15" text-anchor="start" fill="#1a1a1a" font-weight="bold"   stroke="#1a1a1a" stroke-width="0.7">d</text>
<text x="77.00" y="291.20" font-size="10.5" text-anchor="start" fill="#474747" font-weight="normal" textLength="56.0" lengthAdjust="spacingAndGlyphs"  >&#946;-Oxidation</text>
<line x1="52.50" y1="314.95" x2="52.50" y2="472.80" stroke="#555555" stroke-width="0.9" />
<line x1="48.00" y1="472.80" x2="52.50" y2="472.80" stroke="#555555" stroke-width="0.9" />
<text x="38.50" y="476.20" font-size="9.4" text-anchor="start" fill="#474747" font-weight="normal" textLength="5.0" lengthAdjust="spacingAndGlyphs"  >0</text>
<line x1="48.00" y1="441.23" x2="52.50" y2="441.23" stroke="#555555" stroke-width="0.9" />
<text x="19.00" y="444.63" font-size="9.4" text-anchor="start" fill="#474747" font-weight="normal" textLength="23.5" lengthAdjust="spacingAndGlyphs"  >1,000</text>
<line x1="48.00" y1="409.66" x2="52.50" y2="409.66" stroke="#555555" stroke-width="0.9" />
<text x="19.00" y="413.06" font-size="9.4" text-anchor="start" fill="#474747" font-weight="normal" textLength="23.5" lengthAdjust="spacingAndGlyphs"  >2,000</text>
<line x1="48.00" y1="378.09" x2="52.50" y2="378.09" stroke="#555555" stroke-width="0.9" />
<text x="19.00" y="381.49" font-size="9.4" text-anchor="start" fill="#474747" font-weight="normal" textLength="23.5" lengthAdjust="spacingAndGlyphs"  >3,000</text>
<line x1="48.00" y1="346.52" x2="52.50" y2="346.52" stroke="#555555" stroke-width="0.9" />
<text x="19.00" y="349.92" font-size="9.4" text-anchor="start" fill="#474747" font-weight="normal" textLength="23.5" lengthAdjust="spacingAndGlyphs"  >4,000</text>
<line x1="48.00" y1="314.95" x2="52.50" y2="314.95" stroke="#555555" stroke-width="0.9" />
<text x="19.00" y="318.35" font-size="9.4" text-anchor="start" fill="#474747" font-weight="normal" textLength="23.5" lengthAdjust="spacingAndGlyphs"  >5,000</text>
<line x1="82.30" y1="472.80" x2="82.30" y2="477.50" stroke="#555555" stroke-width="0.9" />
<line x1="127.40" y1="472.80" x2="127.40" y2="477.50" stroke="#555555" stroke-width="0.9" />
<polyline points="68.50,472.50 68.50,365.30 96.50,365.30 96.50,472.50" fill="none" stroke="#5a5a5a" stroke-width="0.9" stroke-linejoin="round" />
<polyline points="113.60,472.50 113.60,427.30 141.30,427.30 141.30,472.50" fill="none" stroke="#c44e60" stroke-width="0.9" stroke-linejoin="round" />
<line x1="48.00" y1="473.00" x2="157.80" y2="473.00" stroke="#999" stroke-width="1.0" />
<line x1="82.30" y1="357.20" x2="82.30" y2="371.40" stroke="#5a5a5a" stroke-width="0.9" />
<line x1="75.00" y1="357.20" x2="89.80" y2="357.20" stroke="#5a5a5a" stroke-width="0.9" />
<line x1="75.00" y1="371.40" x2="89.80" y2="371.40" stroke="#5a5a5a" stroke-width="0.9" />
<line x1="127.40" y1="420.10" x2="127.40" y2="432.20" stroke="#c44e60" stroke-width="0.9" />
<line x1="120.40" y1="420.10" x2="134.50" y2="420.10" stroke="#c44e60" stroke-width="0.9" />
<line x1="120.40" y1="432.20" x2="134.50" y2="432.20" stroke="#c44e60" stroke-width="0.9" />
<circle cx="71.10" cy="340.10" r="3.9" fill="#fff" stroke="#5a5a5a" stroke-width="0.9"/>
<circle cx="71.10" cy="350.40" r="3.9" fill="#fff" stroke="#5a5a5a" stroke-width="0.9"/>
<circle cx="71.10" cy="361.80" r="3.9" fill="#fff" stroke="#5a5a5a" stroke-width="0.9"/>
<circle cx="93.30" cy="334.50" r="3.9" fill="#fff" stroke="#5a5a5a" stroke-width="0.9"/>
<circle cx="93.30" cy="345.30" r="3.9" fill="#fff" stroke="#5a5a5a" stroke-width="0.9"/>
<circle cx="93.30" cy="360.60" r="3.9" fill="#fff" stroke="#5a5a5a" stroke-width="0.9"/>
<circle cx="71.10" cy="380.10" r="3.9" fill="#fff" stroke="#5a5a5a" stroke-width="0.9"/>
<circle cx="93.30" cy="378.90" r="3.9" fill="#fff" stroke="#5a5a5a" stroke-width="0.9"/>
<circle cx="82.20" cy="388.30" r="3.9" fill="#fff" stroke="#5a5a5a" stroke-width="0.9"/>
<circle cx="82.20" cy="403.30" r="3.9" fill="#fff" stroke="#5a5a5a" stroke-width="0.9"/>
<circle cx="127.40" cy="402.70" r="3.9" fill="#fff" stroke="#c44e60" stroke-width="0.9"/>
<circle cx="127.40" cy="413.50" r="3.9" fill="#fff" stroke="#c44e60" stroke-width="0.9"/>
<circle cx="116.70" cy="418.20" r="3.9" fill="#fff" stroke="#c44e60" stroke-width="0.9"/>
<circle cx="138.80" cy="421.30" r="3.9" fill="#fff" stroke="#c44e60" stroke-width="0.9"/>
<circle cx="127.40" cy="425.40" r="3.9" fill="#fff" stroke="#c44e60" stroke-width="0.9"/>
<circle cx="138.80" cy="433.40" r="3.9" fill="#fff" stroke="#c44e60" stroke-width="0.9"/>
<circle cx="127.40" cy="437.20" r="3.9" fill="#fff" stroke="#c44e60" stroke-width="0.9"/>
<circle cx="127.40" cy="459.10" r="3.9" fill="#fff" stroke="#c44e60" stroke-width="0.9"/>
<polyline points="82.30,325.00 82.30,316.40 127.40,316.40 127.40,393.30" fill="none" stroke="#555555" stroke-width="0.9" stroke-linejoin="round" />
<polygon points="95.82,307.70 96.47,309.51 98.39,309.57 96.87,310.74 97.41,312.58 95.82,311.50 94.24,312.58 94.78,310.74 93.26,309.57 95.18,309.51" fill="#333"/>
<polygon points="101.47,307.70 102.12,309.51 104.04,309.57 102.52,310.74 103.06,312.58 101.47,311.50 99.89,312.58 100.43,310.74 98.91,309.57 100.83,309.51" fill="#333"/>
<polygon points="107.12,307.70 107.77,309.51 109.69,309.57 108.17,310.74 108.71,312.58 107.12,311.50 105.54,312.58 106.08,310.74 104.56,309.57 106.48,309.51" fill="#333"/>
<polygon points="112.77,307.70 113.42,309.51 115.34,309.57 113.82,310.74 114.36,312.58 112.77,311.50 111.19,312.58 111.73,310.74 110.21,309.57 112.13,309.51" fill="#333"/>
<text x="10.30" y="393.30" font-size="10.3" text-anchor="middle" fill="#474747" font-weight="normal" textLength="129.90000000000015" lengthAdjust="spacingAndGlyphs" transform="rotate(-90 10.30 393.30)" >OCR (pmol min<tspan font-size="6.8" dy="-4.2">&#8722;1</tspan><tspan dy="4.2"> mg</tspan><tspan font-size="6.8" dy="-4.2">&#8722;1</tspan><tspan dy="4.2"> prot)</tspan></text>
<text x="85.30" y="486.20" font-size="11.3" text-anchor="end" fill="#474747" font-weight="normal" textLength="53.7" lengthAdjust="spacingAndGlyphs" transform="rotate(-45 85.30 486.20)" >Scrambled</text>
<text x="132.40" y="485.20" font-size="11.3" text-anchor="end" fill="#474747" font-weight="normal" textLength="59.1" lengthAdjust="spacingAndGlyphs" transform="rotate(-45 132.40 485.20)" >CD36 siRNA</text>
<text x="180.00" y="283.00" font-size="15" text-anchor="start" fill="#1a1a1a" font-weight="bold"   stroke="#1a1a1a" stroke-width="0.7">e</text>
<line x1="237.50" y1="295.80" x2="237.50" y2="495.40" stroke="#555555" stroke-width="0.9" />
<line x1="233.00" y1="495.40" x2="238.00" y2="495.40" stroke="#555555" stroke-width="0.9" />
<line x1="235.00" y1="490.41" x2="238.00" y2="490.41" stroke="#8a8a8a" stroke-width="0.9" />
<line x1="235.00" y1="485.42" x2="238.00" y2="485.42" stroke="#8a8a8a" stroke-width="0.9" />
<line x1="235.00" y1="480.43" x2="238.00" y2="480.43" stroke="#8a8a8a" stroke-width="0.9" />
<line x1="235.00" y1="475.44" x2="238.00" y2="475.44" stroke="#8a8a8a" stroke-width="0.9" />
<line x1="235.00" y1="470.45" x2="238.00" y2="470.45" stroke="#8a8a8a" stroke-width="0.9" />
<line x1="235.00" y1="465.46" x2="238.00" y2="465.46" stroke="#8a8a8a" stroke-width="0.9" />
<line x1="235.00" y1="460.47" x2="238.00" y2="460.47" stroke="#8a8a8a" stroke-width="0.9" />
<line x1="235.00" y1="455.48" x2="238.00" y2="455.48" stroke="#8a8a8a" stroke-width="0.9" />
<line x1="235.00" y1="450.49" x2="238.00" y2="450.49" stroke="#8a8a8a" stroke-width="0.9" />
<line x1="233.00" y1="445.50" x2="238.00" y2="445.50" stroke="#555555" stroke-width="0.9" />
<line x1="235.00" y1="440.51" x2="238.00" y2="440.51" stroke="#8a8a8a" stroke-width="0.9" />
<line x1="235.00" y1="435.52" x2="238.00" y2="435.52" stroke="#8a8a8a" stroke-width="0.9" />
<line x1="235.00" y1="430.53" x2="238.00" y2="430.53" stroke="#8a8a8a" stroke-width="0.9" />
<line x1="235.00" y1="425.54" x2="238.00" y2="425.54" stroke="#8a8a8a" stroke-width="0.9" />
<line x1="235.00" y1="420.55" x2="238.00" y2="420.55" stroke="#8a8a8a" stroke-width="0.9" />
<line x1="235.00" y1="415.56" x2="238.00" y2="415.56" stroke="#8a8a8a" stroke-width="0.9" />
<line x1="235.00" y1="410.57" x2="238.00" y2="410.57" stroke="#8a8a8a" stroke-width="0.9" />
<line x1="235.00" y1="405.58" x2="238.00" y2="405.58" stroke="#8a8a8a" stroke-width="0.9" />
<line x1="235.00" y1="400.59" x2="238.00" y2="400.59" stroke="#8a8a8a" stroke-width="0.9" />
<line x1="233.00" y1="395.60" x2="238.00" y2="395.60" stroke="#555555" stroke-width="0.9" />
<line x1="235.00" y1="390.61" x2="238.00" y2="390.61" stroke="#8a8a8a" stroke-width="0.9" />
<line x1="235.00" y1="385.62" x2="238.00" y2="385.62" stroke="#8a8a8a" stroke-width="0.9" />
<line x1="235.00" y1="380.63" x2="238.00" y2="380.63" stroke="#8a8a8a" stroke-width="0.9" />
<line x1="235.00" y1="375.64" x2="238.00" y2="375.64" stroke="#8a8a8a" stroke-width="0.9" />
<line x1="235.00" y1="370.65" x2="238.00" y2="370.65" stroke="#8a8a8a" stroke-width="0.9" />
<line x1="235.00" y1="365.66" x2="238.00" y2="365.66" stroke="#8a8a8a" stroke-width="0.9" />
<line x1="235.00" y1="360.67" x2="238.00" y2="360.67" stroke="#8a8a8a" stroke-width="0.9" />
<line x1="235.00" y1="355.68" x2="238.00" y2="355.68" stroke="#8a8a8a" stroke-width="0.9" />
<line x1="235.00" y1="350.69" x2="238.00" y2="350.69" stroke="#8a8a8a" stroke-width="0.9" />
<line x1="233.00" y1="345.70" x2="238.00" y2="345.70" stroke="#555555" stroke-width="0.9" />
<line x1="235.00" y1="340.71" x2="238.00" y2="340.71" stroke="#8a8a8a" stroke-width="0.9" />
<line x1="235.00" y1="335.72" x2="238.00" y2="335.72" stroke="#8a8a8a" stroke-width="0.9" />
<line x1="235.00" y1="330.73" x2="238.00" y2="330.73" stroke="#8a8a8a" stroke-width="0.9" />
<line x1="235.00" y1="325.74" x2="238.00" y2="325.74" stroke="#8a8a8a" stroke-width="0.9" />
<line x1="235.00" y1="320.75" x2="238.00" y2="320.75" stroke="#8a8a8a" stroke-width="0.9" />
<line x1="235.00" y1="315.76" x2="238.00" y2="315.76" stroke="#8a8a8a" stroke-width="0.9" />
<line x1="235.00" y1="310.77" x2="238.00" y2="310.77" stroke="#8a8a8a" stroke-width="0.9" />
<line x1="235.00" y1="305.78" x2="238.00" y2="305.78" stroke="#8a8a8a" stroke-width="0.9" />
<line x1="235.00" y1="300.79" x2="238.00" y2="300.79" stroke="#8a8a8a" stroke-width="0.9" />
<line x1="233.00" y1="295.80" x2="238.00" y2="295.80" stroke="#555555" stroke-width="0.9" />
<text x="223.00" y="498.90" font-size="9.4" text-anchor="start" fill="#474747" font-weight="normal" textLength="5.0" lengthAdjust="spacingAndGlyphs"  >0</text>
<text x="197.00" y="449.00" font-size="9.4" text-anchor="start" fill="#474747" font-weight="normal" textLength="31.0" lengthAdjust="spacingAndGlyphs"  >10,000</text>
<text x="197.00" y="399.10" font-size="9.4" text-anchor="start" fill="#474747" font-weight="normal" textLength="31.0" lengthAdjust="spacingAndGlyphs"  >20,000</text>
<text x="197.00" y="349.20" font-size="9.4" text-anchor="start" fill="#474747" font-weight="normal" textLength="31.0" lengthAdjust="spacingAndGlyphs"  >30,000</text>
<text x="197.00" y="299.30" font-size="9.4" text-anchor="start" fill="#474747" font-weight="normal" textLength="31.0" lengthAdjust="spacingAndGlyphs"  >40,000</text>
<line x1="238.00" y1="495.40" x2="466.00" y2="495.40" stroke="#555555" stroke-width="0.9" />
<line x1="238.00" y1="495.40" x2="238.00" y2="500.50" stroke="#555555" stroke-width="0.9" />
<line x1="245.60" y1="495.40" x2="245.60" y2="498.80" stroke="#8a8a8a" stroke-width="0.9" />
<line x1="253.20" y1="495.40" x2="253.20" y2="498.80" stroke="#8a8a8a" stroke-width="0.9" />
<line x1="260.80" y1="495.40" x2="260.80" y2="498.80" stroke="#8a8a8a" stroke-width="0.9" />
<line x1="268.40" y1="495.40" x2="268.40" y2="498.80" stroke="#8a8a8a" stroke-width="0.9" />
<line x1="276.00" y1="495.40" x2="276.00" y2="498.80" stroke="#8a8a8a" stroke-width="0.9" />
<line x1="283.60" y1="495.40" x2="283.60" y2="498.80" stroke="#8a8a8a" stroke-width="0.9" />
<line x1="291.20" y1="495.40" x2="291.20" y2="498.80" stroke="#8a8a8a" stroke-width="0.9" />
<line x1="298.80" y1="495.40" x2="298.80" y2="498.80" stroke="#8a8a8a" stroke-width="0.9" />
<line x1="306.40" y1="495.40" x2="306.40" y2="498.80" stroke="#8a8a8a" stroke-width="0.9" />
<line x1="314.00" y1="495.40" x2="314.00" y2="500.50" stroke="#555555" stroke-width="0.9" />
<line x1="321.60" y1="495.40" x2="321.60" y2="498.80" stroke="#8a8a8a" stroke-width="0.9" />
<line x1="329.20" y1="495.40" x2="329.20" y2="498.80" stroke="#8a8a8a" stroke-width="0.9" />
<line x1="336.80" y1="495.40" x2="336.80" y2="498.80" stroke="#8a8a8a" stroke-width="0.9" />
<line x1="344.40" y1="495.40" x2="344.40" y2="498.80" stroke="#8a8a8a" stroke-width="0.9" />
<line x1="352.00" y1="495.40" x2="352.00" y2="498.80" stroke="#8a8a8a" stroke-width="0.9" />
<line x1="359.60" y1="495.40" x2="359.60" y2="498.80" stroke="#8a8a8a" stroke-width="0.9" />
<line x1="367.20" y1="495.40" x2="367.20" y2="498.80" stroke="#8a8a8a" stroke-width="0.9" />
<line x1="374.80" y1="495.40" x2="374.80" y2="498.80" stroke="#8a8a8a" stroke-width="0.9" />
<line x1="382.40" y1="495.40" x2="382.40" y2="498.80" stroke="#8a8a8a" stroke-width="0.9" />
<line x1="390.00" y1="495.40" x2="390.00" y2="500.50" stroke="#555555" stroke-width="0.9" />
<line x1="397.60" y1="495.40" x2="397.60" y2="498.80" stroke="#8a8a8a" stroke-width="0.9" />
<line x1="405.20" y1="495.40" x2="405.20" y2="498.80" stroke="#8a8a8a" stroke-width="0.9" />
<line x1="412.80" y1="495.40" x2="412.80" y2="498.80" stroke="#8a8a8a" stroke-width="0.9" />
<line x1="420.40" y1="495.40" x2="420.40" y2="498.80" stroke="#8a8a8a" stroke-width="0.9" />
<line x1="428.00" y1="495.40" x2="428.00" y2="498.80" stroke="#8a8a8a" stroke-width="0.9" />
<line x1="435.60" y1="495.40" x2="435.60" y2="498.80" stroke="#8a8a8a" stroke-width="0.9" />
<line x1="443.20" y1="495.40" x2="443.20" y2="498.80" stroke="#8a8a8a" stroke-width="0.9" />
<line x1="450.80" y1="495.40" x2="450.80" y2="498.80" stroke="#8a8a8a" stroke-width="0.9" />
<line x1="458.40" y1="495.40" x2="458.40" y2="498.80" stroke="#8a8a8a" stroke-width="0.9" />
<line x1="466.00" y1="495.40" x2="466.00" y2="500.50" stroke="#555555" stroke-width="0.9" />
<text x="235.00" y="511.30" font-size="9.4" text-anchor="start" fill="#474747" font-weight="normal" textLength="5.0" lengthAdjust="spacingAndGlyphs"  >0</text>
<text x="308.00" y="511.30" font-size="9.4" text-anchor="start" fill="#474747" font-weight="normal" textLength="11.0" lengthAdjust="spacingAndGlyphs"  >50</text>
<text x="382.00" y="511.30" font-size="9.4" text-anchor="start" fill="#474747" font-weight="normal" textLength="15.0" lengthAdjust="spacingAndGlyphs"  >100</text>
<text x="459.00" y="511.30" font-size="9.4" text-anchor="start" fill="#474747" font-weight="normal" textLength="14.0" lengthAdjust="spacingAndGlyphs"  >150</text>
<text x="326.50" y="526.80" font-size="10.2" text-anchor="start" fill="#474747" font-weight="normal" textLength="51.5" lengthAdjust="spacingAndGlyphs"  >Time (min)</text>
<line x1="286.40" y1="295.60" x2="286.40" y2="495.40" stroke="#3a3a3a" stroke-width="1.0" stroke-dasharray="4.0 2.32"/>
<line x1="344.40" y1="295.60" x2="344.40" y2="495.40" stroke="#3a3a3a" stroke-width="1.0" stroke-dasharray="4.0 2.32"/>
<line x1="402.40" y1="295.60" x2="402.40" y2="495.40" stroke="#3a3a3a" stroke-width="1.0" stroke-dasharray="4.0 2.32"/>
<text x="273.00" y="290.30" font-size="10.2" text-anchor="start" fill="#474747" font-weight="normal" textLength="27.0" lengthAdjust="spacingAndGlyphs"  >Oligo</text>
<text x="330.00" y="290.30" font-size="10.2" text-anchor="start" fill="#474747" font-weight="normal" textLength="29.0" lengthAdjust="spacingAndGlyphs"  >CCCP</text>
<text x="394.00" y="290.30" font-size="10.2" text-anchor="start" fill="#474747" font-weight="normal" textLength="17.0" lengthAdjust="spacingAndGlyphs"  >R/A</text>
<line x1="356.80" y1="319.00" x2="356.80" y2="338.00" stroke="#7a7a7a" stroke-width="0.8" />
<line x1="353.80" y1="319.00" x2="359.80" y2="319.00" stroke="#7a7a7a" stroke-width="0.8" />
<line x1="353.80" y1="338.00" x2="359.80" y2="338.00" stroke="#7a7a7a" stroke-width="0.8" />
<line x1="371.40" y1="314.00" x2="371.40" y2="335.00" stroke="#7a7a7a" stroke-width="0.8" />
<line x1="368.40" y1="314.00" x2="374.40" y2="314.00" stroke="#7a7a7a" stroke-width="0.8" />
<line x1="368.40" y1="335.00" x2="374.40" y2="335.00" stroke="#7a7a7a" stroke-width="0.8" />
<line x1="386.00" y1="316.40" x2="386.00" y2="336.00" stroke="#7a7a7a" stroke-width="0.8" />
<line x1="383.00" y1="316.40" x2="389.00" y2="316.40" stroke="#7a7a7a" stroke-width="0.8" />
<line x1="383.00" y1="336.00" x2="389.00" y2="336.00" stroke="#7a7a7a" stroke-width="0.8" />
<line x1="400.60" y1="319.40" x2="400.60" y2="336.00" stroke="#7a7a7a" stroke-width="0.8" />
<line x1="397.60" y1="319.40" x2="403.60" y2="319.40" stroke="#7a7a7a" stroke-width="0.8" />
<line x1="397.60" y1="336.00" x2="403.60" y2="336.00" stroke="#7a7a7a" stroke-width="0.8" />
<line x1="356.80" y1="412.40" x2="356.80" y2="441.40" stroke="#cc7080" stroke-width="0.8" />
<line x1="353.80" y1="412.40" x2="359.80" y2="412.40" stroke="#cc7080" stroke-width="0.8" />
<line x1="353.80" y1="441.40" x2="359.80" y2="441.40" stroke="#cc7080" stroke-width="0.8" />
<line x1="371.40" y1="415.40" x2="371.40" y2="443.40" stroke="#cc7080" stroke-width="0.8" />
<line x1="368.40" y1="415.40" x2="374.40" y2="415.40" stroke="#cc7080" stroke-width="0.8" />
<line x1="368.40" y1="443.40" x2="374.40" y2="443.40" stroke="#cc7080" stroke-width="0.8" />
<line x1="386.00" y1="417.40" x2="386.00" y2="445.40" stroke="#cc7080" stroke-width="0.8" />
<line x1="383.00" y1="417.40" x2="389.00" y2="417.40" stroke="#cc7080" stroke-width="0.8" />
<line x1="383.00" y1="445.40" x2="389.00" y2="445.40" stroke="#cc7080" stroke-width="0.8" />
<line x1="400.60" y1="420.40" x2="400.60" y2="446.00" stroke="#cc7080" stroke-width="0.8" />
<line x1="397.60" y1="420.40" x2="403.60" y2="420.40" stroke="#cc7080" stroke-width="0.8" />
<line x1="397.60" y1="446.00" x2="403.60" y2="446.00" stroke="#cc7080" stroke-width="0.8" />
<circle cx="240.00" cy="473.60" r="3.0" fill="#fff" stroke="#b52234" stroke-width="1.0"/>
<circle cx="254.60" cy="474.40" r="3.0" fill="#fff" stroke="#b52234" stroke-width="1.0"/>
<circle cx="269.20" cy="475.90" r="3.0" fill="#fff" stroke="#b52234" stroke-width="1.0"/>
<circle cx="283.80" cy="477.20" r="3.0" fill="#fff" stroke="#b52234" stroke-width="1.0"/>
<circle cx="298.40" cy="485.70" r="3.0" fill="#fff" stroke="#b52234" stroke-width="1.0"/>
<circle cx="313.00" cy="485.40" r="3.0" fill="#fff" stroke="#b52234" stroke-width="1.0"/>
<circle cx="327.60" cy="484.40" r="3.0" fill="#fff" stroke="#b52234" stroke-width="1.0"/>
<circle cx="342.20" cy="483.50" r="3.0" fill="#fff" stroke="#b52234" stroke-width="1.0"/>
<circle cx="356.80" cy="427.40" r="3.0" fill="#fff" stroke="#b52234" stroke-width="1.0"/>
<circle cx="371.40" cy="429.00" r="3.0" fill="#fff" stroke="#b52234" stroke-width="1.0"/>
<circle cx="386.00" cy="431.40" r="3.0" fill="#fff" stroke="#b52234" stroke-width="1.0"/>
<circle cx="400.60" cy="433.40" r="3.0" fill="#fff" stroke="#b52234" stroke-width="1.0"/>
<circle cx="415.20" cy="488.00" r="3.0" fill="#fff" stroke="#b52234" stroke-width="1.0"/>
<circle cx="429.80" cy="488.40" r="3.0" fill="#fff" stroke="#b52234" stroke-width="1.0"/>
<circle cx="444.40" cy="489.00" r="3.0" fill="#fff" stroke="#b52234" stroke-width="1.0"/>
<circle cx="459.00" cy="489.60" r="3.0" fill="#fff" stroke="#b52234" stroke-width="1.0"/>
<circle cx="240.00" cy="466.80" r="3.0" fill="#fff" stroke="#2e2e2e" stroke-width="1.0"/>
<circle cx="254.60" cy="468.30" r="3.0" fill="#fff" stroke="#2e2e2e" stroke-width="1.0"/>
<circle cx="269.20" cy="468.90" r="3.0" fill="#fff" stroke="#2e2e2e" stroke-width="1.0"/>
<circle cx="283.80" cy="469.20" r="3.0" fill="#fff" stroke="#2e2e2e" stroke-width="1.0"/>
<circle cx="298.40" cy="480.00" r="3.0" fill="#fff" stroke="#2e2e2e" stroke-width="1.0"/>
<circle cx="313.00" cy="479.30" r="3.0" fill="#fff" stroke="#2e2e2e" stroke-width="1.0"/>
<circle cx="327.60" cy="477.40" r="3.0" fill="#fff" stroke="#2e2e2e" stroke-width="1.0"/>
<circle cx="342.20" cy="474.90" r="3.0" fill="#fff" stroke="#2e2e2e" stroke-width="1.0"/>
<circle cx="356.80" cy="328.60" r="3.0" fill="#fff" stroke="#2e2e2e" stroke-width="1.0"/>
<circle cx="371.40" cy="324.40" r="3.0" fill="#fff" stroke="#2e2e2e" stroke-width="1.0"/>
<circle cx="386.00" cy="326.60" r="3.0" fill="#fff" stroke="#2e2e2e" stroke-width="1.0"/>
<circle cx="400.60" cy="328.00" r="3.0" fill="#fff" stroke="#2e2e2e" stroke-width="1.0"/>
<circle cx="415.20" cy="482.40" r="3.0" fill="#fff" stroke="#2e2e2e" stroke-width="1.0"/>
<circle cx="429.80" cy="482.00" r="3.0" fill="#fff" stroke="#2e2e2e" stroke-width="1.0"/>
<circle cx="444.40" cy="483.00" r="3.0" fill="#fff" stroke="#2e2e2e" stroke-width="1.0"/>
<circle cx="459.00" cy="484.40" r="3.0" fill="#fff" stroke="#2e2e2e" stroke-width="1.0"/>
<polyline points="240.00,473.60 254.60,474.40 269.20,475.90 283.80,477.20 298.40,485.70 313.00,485.40 327.60,484.40 342.20,483.50 356.80,427.40 371.40,429.00 386.00,431.40 400.60,433.40 415.20,488.00 429.80,488.40 444.40,489.00 459.00,489.60" fill="none" stroke="#b52234" stroke-width="1.0" stroke-linejoin="round" />
<polyline points="240.00,466.80 254.60,468.30 269.20,468.90 283.80,469.20 298.40,480.00 313.00,479.30 327.60,477.40 342.20,474.90 356.80,328.60 371.40,324.40 386.00,326.60 400.60,328.00 415.20,482.40 429.80,482.00 444.40,483.00 459.00,484.40" fill="none" stroke="#2e2e2e" stroke-width="1.0" stroke-linejoin="round" />
<line x1="408.40" y1="355.50" x2="421.00" y2="355.50" stroke="#2e2e2e" stroke-width="1.0" />
<circle cx="414.60" cy="355.50" r="2.9" fill="none" stroke="#2e2e2e" stroke-width="0.9"/>
<line x1="408.40" y1="371.30" x2="421.00" y2="371.30" stroke="#b52234" stroke-width="1.0" />
<circle cx="414.60" cy="371.30" r="2.9" fill="none" stroke="#b52234" stroke-width="0.9"/>
<text x="424.50" y="358.60" font-size="9.5" text-anchor="start" fill="#474747" font-weight="normal" textLength="45.0" lengthAdjust="spacingAndGlyphs"  >Scrambled</text>
<text x="424.50" y="374.60" font-size="9.5" text-anchor="start" fill="#474747" font-weight="normal" textLength="49.5" lengthAdjust="spacingAndGlyphs"  >CD36 siRNA</text>
<text x="188.70" y="395.70" font-size="10.3" text-anchor="middle" fill="#474747" font-weight="normal" textLength="130.89999999999947" lengthAdjust="spacingAndGlyphs" transform="rotate(-90 188.70 395.70)" >OCR (pmol min<tspan font-size="6.8" dy="-4.2">&#8722;1</tspan><tspan dy="4.2"> mg</tspan><tspan font-size="6.8" dy="-4.2">&#8722;1</tspan><tspan dy="4.2"> prot)</tspan></text>
<text x="518.00" y="283.30" font-size="15" text-anchor="start" fill="#1a1a1a" font-weight="bold"   stroke="#1a1a1a" stroke-width="0.7">f</text>
<line x1="574.60" y1="314.80" x2="574.60" y2="472.00" stroke="#555555" stroke-width="0.9" />
<line x1="569.40" y1="472.00" x2="574.60" y2="472.00" stroke="#555555" stroke-width="0.9" />
<text x="561.00" y="475.40" font-size="9.4" text-anchor="start" fill="#474747" font-weight="normal" textLength="4.0" lengthAdjust="spacingAndGlyphs"  >0</text>
<line x1="569.40" y1="432.70" x2="574.60" y2="432.70" stroke="#555555" stroke-width="0.9" />
<text x="534.00" y="436.10" font-size="9.4" text-anchor="start" fill="#474747" font-weight="normal" textLength="32.0" lengthAdjust="spacingAndGlyphs"  >10,000</text>
<line x1="569.40" y1="393.40" x2="574.60" y2="393.40" stroke="#555555" stroke-width="0.9" />
<text x="534.00" y="396.80" font-size="9.4" text-anchor="start" fill="#474747" font-weight="normal" textLength="32.0" lengthAdjust="spacingAndGlyphs"  >20,000</text>
<line x1="569.40" y1="354.10" x2="574.60" y2="354.10" stroke="#555555" stroke-width="0.9" />
<text x="534.00" y="357.50" font-size="9.4" text-anchor="start" fill="#474747" font-weight="normal" textLength="32.0" lengthAdjust="spacingAndGlyphs"  >30,000</text>
<line x1="569.40" y1="314.80" x2="574.60" y2="314.80" stroke="#555555" stroke-width="0.9" />
<text x="534.00" y="318.20" font-size="9.4" text-anchor="start" fill="#474747" font-weight="normal" textLength="32.0" lengthAdjust="spacingAndGlyphs"  >40,000</text>
<line x1="604.60" y1="472.00" x2="604.60" y2="476.50" stroke="#555555" stroke-width="0.9" />
<line x1="649.40" y1="472.00" x2="649.40" y2="476.50" stroke="#555555" stroke-width="0.9" />
<polyline points="590.80,472.50 590.80,350.40 618.20,350.40 618.20,472.50" fill="none" stroke="#5a5a5a" stroke-width="0.9" stroke-linejoin="round" />
<polyline points="635.40,472.50 635.40,427.40 663.50,427.40 663.50,472.50" fill="none" stroke="#c44e60" stroke-width="0.9" stroke-linejoin="round" />
<line x1="569.40" y1="472.50" x2="679.80" y2="472.50" stroke="#666" stroke-width="0.9" />
<line x1="604.50" y1="341.50" x2="604.50" y2="356.50" stroke="#5a5a5a" stroke-width="0.9" />
<line x1="597.20" y1="341.50" x2="612.20" y2="341.50" stroke="#5a5a5a" stroke-width="0.9" />
<line x1="597.20" y1="356.50" x2="612.20" y2="356.50" stroke="#5a5a5a" stroke-width="0.9" />
<line x1="649.40" y1="415.40" x2="649.40" y2="436.50" stroke="#c44e60" stroke-width="0.9" />
<line x1="642.40" y1="415.40" x2="656.40" y2="415.40" stroke="#c44e60" stroke-width="0.9" />
<line x1="642.40" y1="436.50" x2="656.40" y2="436.50" stroke="#c44e60" stroke-width="0.9" />
<circle cx="593.20" cy="324.30" r="3.9" fill="#fff" stroke="#5a5a5a" stroke-width="0.9"/>
<circle cx="600.60" cy="331.30" r="3.9" fill="#fff" stroke="#5a5a5a" stroke-width="0.9"/>
<circle cx="608.20" cy="327.30" r="3.9" fill="#fff" stroke="#5a5a5a" stroke-width="0.9"/>
<circle cx="615.50" cy="332.20" r="3.9" fill="#fff" stroke="#5a5a5a" stroke-width="0.9"/>
<circle cx="604.50" cy="343.90" r="3.9" fill="#fff" stroke="#5a5a5a" stroke-width="0.9"/>
<circle cx="604.50" cy="356.50" r="3.9" fill="#fff" stroke="#5a5a5a" stroke-width="0.9"/>
<circle cx="604.50" cy="366.70" r="3.9" fill="#fff" stroke="#5a5a5a" stroke-width="0.9"/>
<circle cx="608.20" cy="377.00" r="3.9" fill="#fff" stroke="#5a5a5a" stroke-width="0.9"/>
<circle cx="600.60" cy="380.60" r="3.9" fill="#fff" stroke="#5a5a5a" stroke-width="0.9"/>
<circle cx="645.80" cy="366.10" r="3.9" fill="#fff" stroke="#c44e60" stroke-width="0.9"/>
<circle cx="653.40" cy="373.30" r="3.9" fill="#fff" stroke="#c44e60" stroke-width="0.9"/>
<circle cx="645.80" cy="377.10" r="3.9" fill="#fff" stroke="#c44e60" stroke-width="0.9"/>
<circle cx="645.80" cy="391.80" r="3.9" fill="#fff" stroke="#c44e60" stroke-width="0.9"/>
<circle cx="653.40" cy="391.50" r="3.9" fill="#fff" stroke="#c44e60" stroke-width="0.9"/>
<circle cx="649.40" cy="419.20" r="3.9" fill="#fff" stroke="#c44e60" stroke-width="0.9"/>
<circle cx="645.60" cy="439.30" r="3.9" fill="#fff" stroke="#c44e60" stroke-width="0.9"/>
<circle cx="653.20" cy="442.20" r="3.9" fill="#fff" stroke="#c44e60" stroke-width="0.9"/>
<circle cx="660.40" cy="441.00" r="3.9" fill="#fff" stroke="#c44e60" stroke-width="0.9"/>
<circle cx="638.00" cy="443.90" r="3.9" fill="#fff" stroke="#c44e60" stroke-width="0.9"/>
<circle cx="638.00" cy="470.40" r="3.9" fill="#fff" stroke="#c44e60" stroke-width="0.9"/>
<circle cx="645.60" cy="470.40" r="3.9" fill="#fff" stroke="#c44e60" stroke-width="0.9"/>
<circle cx="653.20" cy="470.40" r="3.9" fill="#fff" stroke="#c44e60" stroke-width="0.9"/>
<circle cx="660.60" cy="470.40" r="3.9" fill="#fff" stroke="#c44e60" stroke-width="0.9"/>
<polyline points="604.50,315.00 604.50,305.80 649.40,305.80 649.40,356.70" fill="none" stroke="#555555" stroke-width="0.9" stroke-linejoin="round" />
<polygon points="622.10,298.30 622.75,300.11 624.67,300.17 623.15,301.34 623.69,303.18 622.10,302.10 620.51,303.18 621.05,301.34 619.53,300.17 621.45,300.11" fill="#333"/>
<polygon points="627.60,298.30 628.25,300.11 630.17,300.17 628.65,301.34 629.19,303.18 627.60,302.10 626.01,303.18 626.55,301.34 625.03,300.17 626.95,300.11" fill="#333"/>
<polygon points="633.10,298.30 633.75,300.11 635.67,300.17 634.15,301.34 634.69,303.18 633.10,302.10 631.51,303.18 632.05,301.34 630.53,300.17 632.45,300.11" fill="#333"/>
<text x="527.00" y="393.00" font-size="10.3" text-anchor="middle" fill="#474747" font-weight="normal" textLength="130.0" lengthAdjust="spacingAndGlyphs" transform="rotate(-90 527.00 393.00)" >OCR (pmol min<tspan font-size="6.8" dy="-4.2">&#8722;1</tspan><tspan dy="4.2"> mg</tspan><tspan font-size="6.8" dy="-4.2">&#8722;1</tspan><tspan dy="4.2"> prot)</tspan></text>
<text x="608.40" y="485.50" font-size="11.3" text-anchor="end" fill="#474747" font-weight="normal" textLength="53.7" lengthAdjust="spacingAndGlyphs" transform="rotate(-45 608.40 485.50)" >Scrambled</text>
<text x="654.20" y="483.50" font-size="11.3" text-anchor="end" fill="#474747" font-weight="normal" textLength="59.1" lengthAdjust="spacingAndGlyphs" transform="rotate(-45 654.20 483.50)" >CD36 siRNA</text>
</svg>
</body></html>
